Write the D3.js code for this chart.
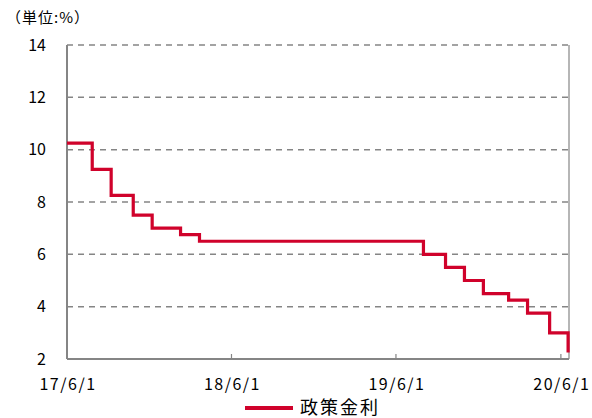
<!DOCTYPE html>
<html>
<head>
<meta charset="utf-8">
<script src="https://cdn.jsdelivr.net/npm/d3@7"></script>
<style>
  body { margin: 0; background: #fff; }
  text { font-family: "Noto Sans CJK JP", sans-serif; fill: #000; }
</style>
</head>
<body>
<svg id="chart" width="592" height="418"></svg>
<script>
// Policy rate (Selic) change dates and levels
var rateDates = ["2017-06-01", "2017-07-27", "2017-09-07", "2017-10-26", "2017-12-07",
                 "2018-02-08", "2018-03-22", "2019-08-01", "2019-09-19", "2019-10-31",
                 "2019-12-12", "2020-02-06", "2020-03-19", "2020-05-07", "2020-06-17"];
var rateValues = [10.25, 9.25, 8.25, 7.5, 7.0,
                  6.75, 6.5, 6.0, 5.5, 5.0,
                  4.5, 4.25, 3.75, 3.0, 2.25];
var xTickLabels = ["17/6/1", "18/6/1", "19/6/1", "20/6/1"];
var yTicks = [2, 4, 6, 8, 10, 12, 14];
var seriesName = "政策金利";
var unitLabel = "（単位:%）";

var parse = d3.timeParse("%Y-%m-%d");
var data = rateDates.map(function(d, i) { return {date: parse(d), value: rateValues[i]}; });

var margin = {top: 45, right: 23, bottom: 59, left: 67},
    width = 592 - margin.left - margin.right,
    height = 418 - margin.top - margin.bottom;

var svg = d3.select("#chart");
var g = svg.append("g").attr("transform", "translate(" + margin.left + "," + margin.top + ")");

var x = d3.scaleTime()
    .domain([parse("2017-06-01"), parse("2020-06-19")])
    .range([0, width]);
var y = d3.scaleLinear().domain([2, 14]).range([height, 0]);

//Gridlines
g.selectAll(".grid")
    .data(yTicks.filter(function(d) { return d > 2; }))
    .enter().append("line")
    .attr("x1", 0).attr("x2", width)
    .attr("y1", function(d) { return y(d); })
    .attr("y2", function(d) { return y(d); })
    .style("stroke", "#858585")
    .style("stroke-width", 1.5)
    .style("stroke-dasharray", "6,5");

//Right border
g.append("line")
    .attr("x1", width).attr("x2", width)
    .attr("y1", 0).attr("y2", height)
    .style("stroke", "#858585").style("stroke-width", 1.2);

//Axes
var xTickDates = ["2017-06-01", "2018-06-01", "2019-06-01", "2020-06-01"].map(parse);
g.selectAll(".xtick")
    .data(xTickDates)
    .enter().append("line")
    .attr("x1", function(d) { return x(d); })
    .attr("x2", function(d) { return x(d); })
    .attr("y1", height).attr("y2", height - 5)
    .style("stroke", "#858585").style("stroke-width", 1.2);

g.selectAll(".xlabel")
    .data(xTickDates)
    .enter().append("text")
    .attr("x", function(d) { return x(d) + 1; })
    .attr("y", height + 31)
    .attr("text-anchor", "middle")
    .style("font-size", "16px")
    .style("letter-spacing", "1.5px")
    .text(function(d, i) { return xTickLabels[i]; });

g.selectAll(".ylabel")
    .data(yTicks)
    .enter().append("text")
    .attr("x", -21)
    .attr("y", function(d) { return y(d); })
    .attr("dy", "0.35em")
    .attr("text-anchor", "end")
    .style("font-size", "16px")
    .text(function(d) { return d; });

g.append("line")
    .attr("x1", 0).attr("x2", 0).attr("y1", 0).attr("y2", height)
    .style("stroke", "#858585").style("stroke-width", 2);
g.append("line")
    .attr("x1", 0).attr("x2", width).attr("y1", height).attr("y2", height)
    .style("stroke", "#858585").style("stroke-width", 2);

//Rate line
var line = d3.line()
    .x(function(d) { return x(d.date); })
    .y(function(d) { return y(d.value); })
    .curve(d3.curveStepAfter);

g.append("path")
    .datum(data)
    .attr("d", line)
    .style("fill", "none")
    .style("stroke", "#d0022b")
    .style("stroke-width", 3.2);

//Unit label
svg.append("text")
    .attr("x", 6).attr("y", 23)
    .style("font-size", "15px")
    .style("letter-spacing", "1px")
    .text(unitLabel);

//Legend
svg.append("line")
    .attr("x1", 245).attr("x2", 293).attr("y1", 408).attr("y2", 408)
    .style("stroke", "#d0022b").style("stroke-width", 4);
svg.append("text")
    .attr("x", 300).attr("y", 408)
    .attr("dy", "0.35em")
    .style("font-size", "18px")
    .style("letter-spacing", "2px")
    .text(seriesName);
</script>
</body>
</html>
